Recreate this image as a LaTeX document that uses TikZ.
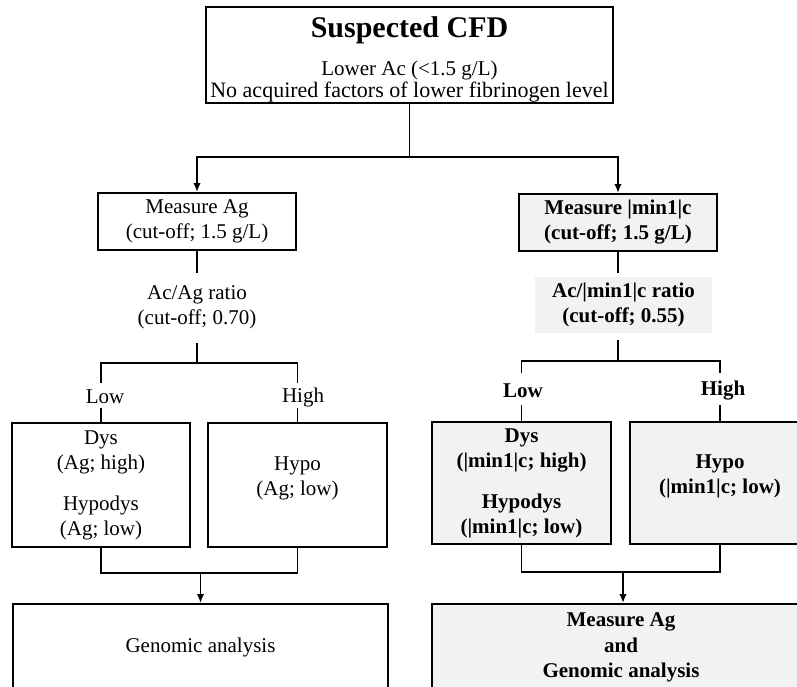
\documentclass[tikz,border=0pt]{standalone}
\usepackage{fontspec}
\setmainfont{Liberation Serif}
\usetikzlibrary{arrows.meta}
\newcommand{\myfs}{\fontsize{21}{25}\selectfont}
\begin{document}
\begin{tikzpicture}[x=1pt,y=-1pt,
  box/.style={draw, line width=2pt, inner sep=0pt, align=center, font=\myfs},
  gbox/.style={box, fill=gray!10, font=\myfs\bfseries},
  txt/.style={inner sep=0pt, align=center, font=\myfs},
  btxt/.style={inner sep=0pt, align=center, font=\myfs\bfseries},
  conn/.style={line width=1.9pt},
  arr/.style={conn, -{Latex[length=9pt,width=7.5pt]}}]
\clip (0,0) rectangle (797,686);
% top
\node[box, minimum width=407pt, minimum height=96pt] (top) at (409.5,55) {};
\node[txt, font=\fontsize{30}{34}\selectfont\bfseries] (title) at (409.5,30) {Suspected CFD};
\node[txt, font=\fontsize{21}{22}\selectfont] (topt) at (409.5,81.5) {Lower Ac (<1.5 g/L)\\{\fontsize{22}{22}\selectfont No acquired factors of lower fibrinogen level}};
% left column
\node[box, minimum width=198pt, minimum height=57pt] (magA) at (197,221.5) {Measure Ag\\(cut-off; 1.5 g/L)};
\node[txt] (ratA) at (197,307) {Ac/Ag ratio\\(cut-off; 0.70)};
\node[txt] (lowA) at (105,397) {Low};
\node[txt] (highA) at (303,397) {High};
\node[box, minimum width=178pt, minimum height=124pt] (dysA) at (101,485) {Dys\\(Ag; high)\\[16pt]Hypodys\\(Ag; low)};
\node[box, minimum width=179pt, minimum height=124pt] (hypoA) at (297.5,485) {};
\node[txt] (hypoAt) at (297.5,478) {Hypo\\(Ag; low)};
\node[box, minimum width=375pt, minimum height=106pt] (genA) at (200.5,657) {};
\node[txt] (genAt) at (200.5,647) {Genomic analysis};
% right column
\node[gbox, minimum width=198pt, minimum height=57pt] (magB) at (618,222.5) {Measure |min1|c\\(cut-off; 1.5 g/L)};
\node[btxt, fill=gray!10, minimum width=177pt, minimum height=56pt] (ratB) at (623.5,305) {Ac/|min1|c ratio\\(cut-off; 0.55)};
\node[btxt] (lowB) at (523,391) {Low};
\node[btxt] (highB) at (723,391) {High};
\node[gbox, minimum width=179pt, minimum height=122pt] (dysB) at (521.5,483) {Dys\\(|min1|c; high)\\[16pt]Hypodys\\(|min1|c; low)};
\node[gbox, minimum width=180pt, minimum height=122pt] (hypoB) at (720,483) {};
\node[btxt] (hypoBt) at (720,476) {Hypo\\(|min1|c; low)};
\node[gbox, minimum width=378pt, minimum height=106pt] (genB) at (621,657) {};
\node[btxt, font=\fontsize{21}{25.5}\selectfont\bfseries] (genBt) at (621,647.5) {Measure Ag\\and\\Genomic analysis};
% connectors top
\coordinate (j1) at (409.5,157);
\draw[conn] (top.south) -- (j1);
\draw[arr] (j1) -| (magA.north);
\draw[arr] (j1) -| (magB.north);
% left connectors
\coordinate (a1) at (197,273);
\coordinate (a2) at (197,343);
\coordinate (a3) at (197,363);
\draw[conn] (magA.south) -- (a1);
\draw[conn] (a2) -- (a3);
\coordinate (lA1) at (101,383);
\coordinate (hA1) at (297.5,383);
\draw[conn] (lA1) |- (a3) -| (hA1);
\coordinate (lA2) at (101,408);
\coordinate (hA2) at (297.5,408);
\draw[conn] (lA2) -- (dysA.north);
\draw[conn] (hA2) -- (hypoA.north);
\coordinate (mA) at (200.5,573);
\draw[conn] (dysA.south) |- (mA) -| (hypoA.south);
\draw[arr] (mA) -- (genA.north);
% right connectors
\coordinate (b1) at (618,273);
\coordinate (b2) at (618,340);
\coordinate (b3) at (618,361);
\draw[conn] (magB.south) -- (b1);
\draw[conn] (b2) -- (b3);
\coordinate (lB1) at (521.5,373);
\coordinate (hB1) at (720,373);
\draw[conn] (lB1) |- (b3) -| (hB1);
\coordinate (lB2) at (521.5,405);
\coordinate (hB2) at (720,405);
\draw[conn] (lB2) -- (dysB.north);
\draw[conn] (hB2) -- (hypoB.north);
\coordinate (mB) at (623,572);
\draw[conn] (dysB.south) |- (mB) -| (hypoB.south);
\draw[arr] (mB) -- (mB |- genB.north);
\end{tikzpicture}
\end{document}
